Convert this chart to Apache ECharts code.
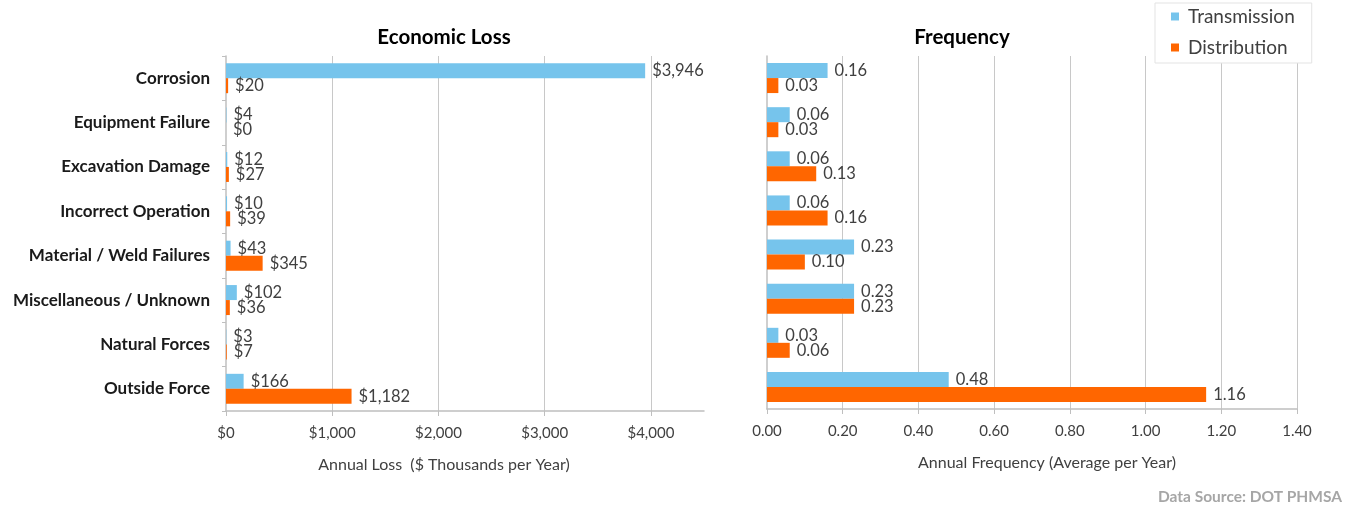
<!DOCTYPE html>
<html>
<head>
<meta charset="utf-8">
<script src="https://cdn.jsdelivr.net/npm/echarts@6/dist/echarts.min.js"></script>
<style>
html,body{margin:0;padding:0;background:#fff;}
#chart{width:1348px;height:512px;}
</style>
</head>
<body>
<div id="chart"></div>
<script>
const categories = ['Corrosion','Equipment Failure','Excavation Damage','Incorrect Operation','Material / Weld Failures','Miscellaneous / Unknown','Natural Forces','Outside Force'];
const seriesNames = ['Transmission','Distribution'];
const lossTransmission = [3946, 4, 12, 10, 43, 102, 3, 166];
const lossDistribution = [20, 0, 27, 39, 345, 36, 7, 1182];
const freqTransmission = [0.16, 0.06, 0.06, 0.06, 0.23, 0.23, 0.03, 0.48];
const freqDistribution = [0.03, 0.03, 0.13, 0.16, 0.10, 0.23, 0.06, 1.16];
const lossTicks = {min: 0, max: 4500, interval: 1000};
const freqTicks = {min: 0, max: 1.4, interval: 0.2};
const titles = ['Economic Loss', 'Frequency'];
const axisNames = ['Annual Loss  ($ Thousands per Year)', 'Annual Frequency (Average per Year)'];
const sourceText = 'Data Source: DOT PHMSA';

const FONT = 'Lato, "Open Sans", sans-serif';
const BLUE = '#76C4EC';
const ORANGE = '#FF6600';
const AXIS = '#BFBFBF';
const GRIDC = '#C8C8C8';
const TXT = '#404040';

const fmtMoney = v => '$' + Math.round(v).toLocaleString('en-US');
const fmtFreq = v => Number(v).toFixed(2);

const chart = echarts.init(document.getElementById('chart'), null, {renderer: 'canvas'});

function valueAxis(idx, ticks, fmt, name, showMax, namePad) {
  return {
    type: 'value', gridIndex: idx,
    min: ticks.min, max: ticks.max, interval: ticks.interval,
    name: name, nameLocation: 'middle', nameGap: 46,
    nameTextStyle: {fontFamily: FONT, fontSize: 16, color: TXT, padding: namePad},
    axisLine: {show: true, lineStyle: {color: AXIS, width: 1.5}},
    axisTick: {show: true, length: 5, lineStyle: {color: AXIS}},
    axisLabel: {formatter: fmt, fontFamily: FONT, fontSize: 15, color: TXT, margin: 15, showMaxLabel: showMax},
    splitLine: {show: true, showMinLine: false, showMaxLine: showMax, lineStyle: {color: GRIDC, width: 1}}
  };
}
function catAxis(idx, showLabels) {
  return {
    type: 'category', gridIndex: idx, data: categories, inverse: true,
    axisLine: {show: true, lineStyle: {color: AXIS, width: 1.5}},
    axisTick: {show: showLabels, length: 4, lineStyle: {color: AXIS}},
    axisLabel: {show: showLabels, fontFamily: FONT, fontSize: 17, fontWeight: 'bold', color: '#1a1a1a', margin: 16},
    splitLine: {show: false}
  };
}
function barSeries(name, x, y, data, color, fmt) {
  return {
    type: 'bar', name: name, xAxisIndex: x, yAxisIndex: y, data: data,
    barWidth: 15, barGap: '0%',
    itemStyle: {color: color},
    label: {show: true, position: 'right', distance: 7, formatter: p => fmt(p.value),
      fontFamily: FONT, fontSize: 16.5, color: TXT}
  };
}

chart.setOption({
  backgroundColor: '#fff',
  animation: false,
  title: [
    {text: titles[0], left: 439, top: 22, textAlign: 'center',
      textStyle: {fontFamily: FONT, fontSize: 20.5, fontWeight: 'bold', color: '#000'}},
    {text: titles[1], left: 957, top: 22, textAlign: 'center',
      textStyle: {fontFamily: FONT, fontSize: 20.5, fontWeight: 'bold', color: '#000'}},
    {text: sourceText, right: 1, bottom: 2,
      textStyle: {fontFamily: FONT, fontSize: 15.5, fontWeight: 'bold', color: '#A6A6A6'}}
  ],
  legend: {
    data: seriesNames, orient: 'vertical', left: 1155, top: 3,
    itemWidth: 8, itemHeight: 8, itemGap: 12, icon: 'rect',
    padding: [4, 17, 6, 16],
    borderColor: '#E3E3E3', borderWidth: 1, backgroundColor: '#fff', z: 10,
    textStyle: {fontFamily: FONT, fontSize: 19, color: TXT, padding: [0, 0, 0, 4]}
  },
  grid: [
    {left: 226, right: 644, top: 56, bottom: 101},
    {left: 767, right: 51, top: 56, bottom: 103}
  ],
  xAxis: [
    valueAxis(0, lossTicks, fmtMoney, axisNames[0], false, [0, 42, 0, 0]),
    valueAxis(1, freqTicks, v => fmtFreq(v), axisNames[1], true, [0, 0, 0, 30])
  ],
  yAxis: [catAxis(0, true), catAxis(1, false)],
  series: [
    barSeries(seriesNames[0], 0, 0, lossTransmission, BLUE, fmtMoney),
    barSeries(seriesNames[1], 0, 0, lossDistribution, ORANGE, fmtMoney),
    barSeries(seriesNames[0], 1, 1, freqTransmission, BLUE, fmtFreq),
    barSeries(seriesNames[1], 1, 1, freqDistribution, ORANGE, fmtFreq)
  ]
});
</script>
</body>
</html>
